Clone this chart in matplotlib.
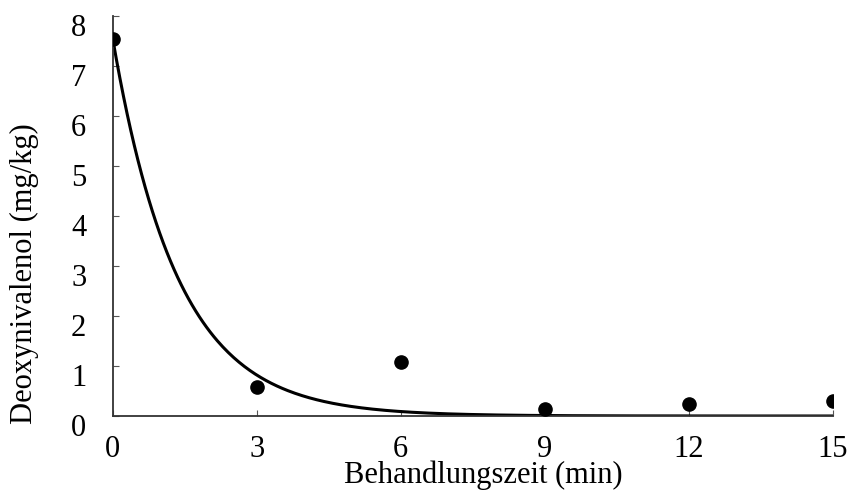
import numpy as np
import matplotlib
matplotlib.use("Agg")
import matplotlib.pyplot as plt
from matplotlib.transforms import ScaledTranslation

# Data
time_min = [0, 3, 6, 9, 12, 15]
don_mgkg = [7.55, 0.59, 1.09, 0.15, 0.25, 0.31]
# fitted first-order decay: C(t) = c0 * exp(-k t)
fit_c0 = 7.55
fit_k = 0.74
x_ticks = [0, 3, 6, 9, 12, 15]
y_ticks = [0, 1, 2, 3, 4, 5, 6, 7, 8]
x_label = "Behandlungszeit (min)"
y_label = "Deoxynivalenol (mg/kg)"

plt.rcParams['font.family'] = ['Liberation Serif', 'DejaVu Serif']

W, H, DPI = 858, 491, 100
FS = 22
fig = plt.figure(figsize=(W / DPI, H / DPI), dpi=DPI)
ax = fig.add_axes([112.7 / W, 1 - 416 / H, 720 / W, 400 / H])

t = np.linspace(0, 15, 400)
ax.plot(t, fit_c0 * np.exp(-fit_k * t), color='black', lw=2.2, zorder=2)
ax.plot(time_min, don_mgkg, 'o', color='black', ms=9.5, zorder=3)

ax.set_xlim(0, 15)
ax.set_ylim(0, 8)
ax.set_xticks(x_ticks)
ax.set_yticks(y_ticks)
ax.spines['top'].set_visible(False)
ax.spines['right'].set_visible(False)
for s in ('left', 'bottom'):
    ax.spines[s].set_linewidth(1.3)
    ax.spines[s].set_color('#333333')
ax.tick_params(axis='both', direction='in', length=4, width=0.8, color='#555555',
               labelsize=FS)
ax.tick_params(axis='x', pad=14)
ax.tick_params(axis='y', pad=19)

for lab in ax.get_yticklabels():
    lab.set_transform(lab.get_transform() + ScaledTranslation(0, -9 / DPI, fig.dpi_scale_trans))

ax.set_xlabel(x_label, fontsize=FS)
ax.xaxis.set_label_coords((483 - 112.7) / 720, -(483 - 416) / 400, transform=ax.transAxes)
ax.xaxis.label.set_va('baseline')
ax.set_ylabel(y_label, fontsize=FS)
ax.yaxis.set_label_coords(-(112.7 - 24) / 720, (416 - 274) / 400, transform=ax.transAxes)
ax.yaxis.label.set_va('center')

fig.savefig('out.png', dpi=DPI)
